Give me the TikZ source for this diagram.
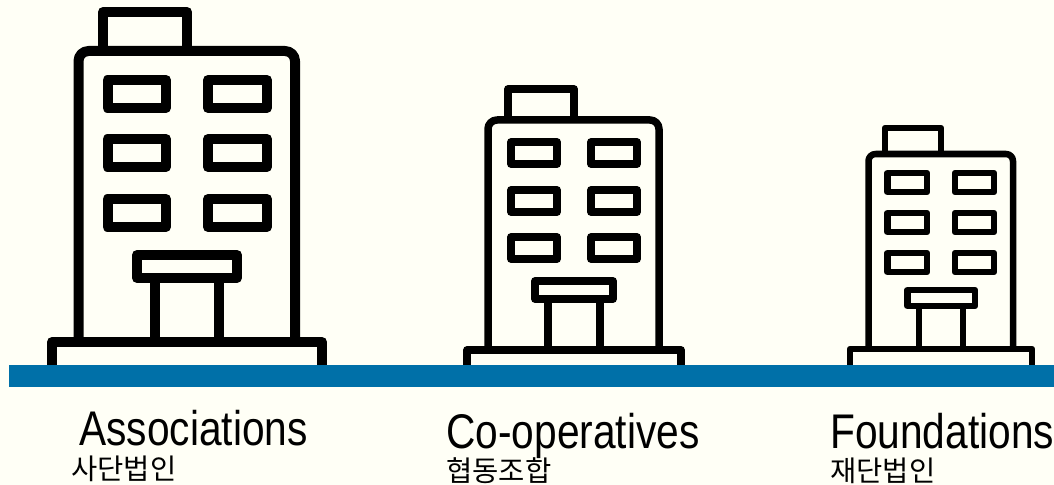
\documentclass[tikz,border=0pt]{standalone}
\usepackage{fontspec}
\setmainfont[FakeStretch=0.836]{Liberation Sans}
\newfontfamily\krfont{Noto Sans CJK KR}
\definecolor{bgc}{HTML}{FFFFF6}
\definecolor{bandc}{HTML}{0070A8}
\tikzset{
 x=0.75pt,y=-0.75pt,
 outl/.style={draw=black,line join=round,fill=none},
 titletext/.style={inner sep=0pt,anchor=base west,font=\fontsize{36.5pt}{38pt}\selectfont},
 krtext/.style={inner sep=0pt,anchor=base west,font=\krfont\fontsize{21.4pt}{23pt}\selectfont},
}
% #1 line width; #2,#3 roof x; #4 roof top; #5,#6 body x; #7 body top; #8 radius; #9 body bottom
\newcommand{\bldshell}[9]{%
 \draw[outl,line width=#1*0.75pt] (#2,#7) -- (#2,#4) -- (#3,#4) -- (#3,#7);
 \draw[outl,line width=#1*0.75pt,rounded corners=#8*0.75pt] (#5,#9) -- (#5,#7) -- (#6,#7) -- (#6,#9);
}
% #1 lw; #2 x1 #3 x2 #4 y1 #5 y2
\newcommand{\bldbox}[5]{\draw[outl,line width=#1*0.75pt] (#2,#4) rectangle (#3,#5);}
\newcommand{\bldpost}[4]{\draw[line width=#1*0.75pt] (#2,#3) -- (#2,#4);}
\newcommand{\bldbase}[5]{\draw[outl,line width=#1*0.75pt] (#2,#5) -- (#2,#4) -- (#3,#4) -- (#3,#5);}
\begin{document}
\begin{tikzpicture}
\useasboundingbox (0,0) rectangle (1054,485);
\fill[bgc] (0,0) rectangle (1054,485);
% building 1
\bldshell{10}{103}{187}{12}{78.5}{295}{51}{10}{342}
\foreach \yy in {80,139,199} {
 \bldbox{10}{107.5}{166}{\yy}{\yy+28}
 \bldbox{10}{208}{267}{\yy}{\yy+28}
}
\bldbox{10}{137}{237}{255}{278}
\bldpost{10}{155}{278}{342}
\bldpost{10}{219}{278}{342}
\bldbase{10}{52}{322}{342}{366}
% building 2
\bldshell{7.5}{508}{574}{89}{488}{659}{120}{9}{350}
\foreach \yy in {142,190,237} {
 \bldbox{7.5}{511}{557}{\yy}{\yy+22}
 \bldbox{7.5}{591}{637}{\yy}{\yy+22}
}
\bldbox{7.5}{535}{613}{281}{299}
\bldpost{7.5}{548}{299}{350}
\bldpost{7.5}{600}{299}{350}
\bldbase{7.5}{467}{681}{350}{366}
% building 3
\bldshell{6.5}{885}{941}{128}{868.5}{1013}{154}{7}{349}
\foreach \yy in {173,213,253} {
 \bldbox{6.5}{887.5}{927}{\yy}{\yy+19}
 \bldbox{6.5}{955}{994}{\yy}{\yy+19}
}
\bldbox{6.5}{907.5}{975}{290}{306}
\bldpost{6.5}{919}{306}{349}
\bldpost{6.5}{963}{306}{349}
\bldbase{6.5}{850}{1032}{349}{366}
% ground band
\fill[bandc] (9,365) rectangle (1054,387);
% labels
\node[titletext] (assoc) at (79,445) {Associations};
\node[krtext] (assockr) at (71,479) {사단법인};
\node[titletext] (coop) at (446,448) {Co-operatives};
\node[krtext] (coopkr) at (446,481) {협동조합};
\node[titletext] (found) at (830,448) {Foundations};
\node[krtext] (foundkr) at (830,481) {재단법인};
\end{tikzpicture}
\end{document}
